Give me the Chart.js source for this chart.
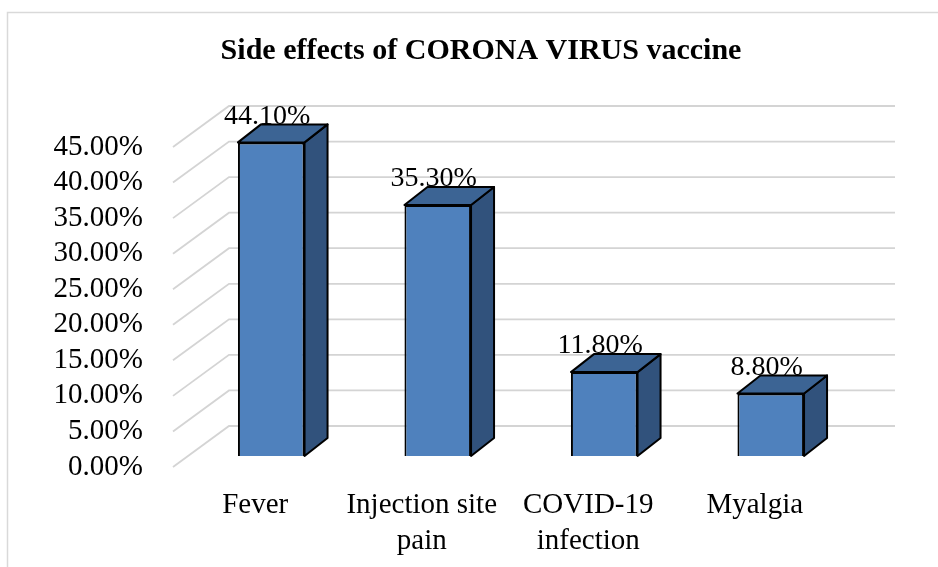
<!DOCTYPE html>
<html>
<head>
<meta charset="utf-8">
<script src="https://cdn.jsdelivr.net/npm/chart.js@4"></script>
<style>
  body { margin: 0; background: #fff; }
  canvas { display: block; }
</style>
</head>
<body>
<canvas id="chart" width="938" height="567"></canvas>
<script>
const chartTitle = "Side effects of CORONA VIRUS vaccine";
const categories = [["Fever"], ["Injection site", "pain"], ["COVID-19", "infection"], ["Myalgia"]];
const values = [44.1, 35.3, 11.8, 8.8];
const tickValues = [0, 5, 10, 15, 20, 25, 30, 35, 40, 45];

const FONT = '"Liberation Serif", "Times New Roman", serif';
// 3D offsets (px) relative to the bar plane
const FRONT = { dx: -15, dy: 11 };
const BACK = { dx: 41, dy: -30 };
const DEPTH = { dx: 23, dy: -18 };

const fake3d = {
  id: "fake3d",
  beforeDraw(chart) {
    const { ctx } = chart;
    ctx.save();
    ctx.fillStyle = "#fff";
    ctx.fillRect(0, 0, chart.width, chart.height);
    ctx.strokeStyle = "#d9d9d9";
    ctx.lineWidth = 1.5;
    ctx.strokeRect(7.5, 12.5, chart.width + 10, chart.height + 10);
    ctx.fillStyle = "#000";
    ctx.font = "bold 30px " + FONT;
    ctx.textAlign = "center";
    ctx.textBaseline = "middle";
    ctx.fillText(chartTitle, 481, 51);
    ctx.restore();
  },
  beforeDatasetsDraw(chart) {
    const { ctx, chartArea, scales } = chart;
    const y = scales.y;
    ctx.save();
    // side wall + back wall gridlines
    ctx.strokeStyle = "#d4d4d4";
    ctx.lineWidth = 1.8;
    tickValues.forEach(v => {
      const py = y.getPixelForValue(v);
      ctx.beginPath();
      ctx.moveTo(chartArea.left + FRONT.dx, py + FRONT.dy);
      ctx.lineTo(chartArea.left + BACK.dx, py + BACK.dy);
      ctx.lineTo(chartArea.right + BACK.dx, py + BACK.dy);
      ctx.stroke();
    });
    // tick labels
    ctx.fillStyle = "#000";
    ctx.font = "29px " + FONT;
    ctx.textAlign = "right";
    ctx.textBaseline = "middle";
    tickValues.forEach(v => {
      const py = y.getPixelForValue(v);
      ctx.fillText(v.toFixed(2) + "%", chartArea.left - 45, py + FRONT.dy);
    });
    // category labels
    ctx.textAlign = "center";
    const meta = chart.getDatasetMeta(0);
    meta.data.forEach((bar, i) => {
      categories[i].forEach((line, j) => {
        ctx.fillText(line, bar.x - 16, chartArea.bottom + 49 + j * 36);
      });
    });
    ctx.restore();
  },
  afterDatasetsDraw(chart) {
    const { ctx } = chart;
    const meta = chart.getDatasetMeta(0);
    ctx.save();
    ctx.strokeStyle = "#000";
    ctx.lineWidth = 2;
    ctx.lineJoin = "round";
    meta.data.forEach((bar, i) => {
      const l = bar.x - bar.width / 2;
      const r = bar.x + bar.width / 2;
      const t = bar.y;
      const b = bar.base;
      // side face
      ctx.beginPath();
      ctx.moveTo(r, t);
      ctx.lineTo(r + DEPTH.dx, t + DEPTH.dy);
      ctx.lineTo(r + DEPTH.dx, b + DEPTH.dy);
      ctx.lineTo(r, b);
      ctx.closePath();
      ctx.fillStyle = "#31527C";
      ctx.fill();
      ctx.stroke();
      // top face
      ctx.beginPath();
      ctx.moveTo(l, t);
      ctx.lineTo(l + DEPTH.dx, t + DEPTH.dy);
      ctx.lineTo(r + DEPTH.dx, t + DEPTH.dy);
      ctx.lineTo(r, t);
      ctx.closePath();
      ctx.fillStyle = "#3C6494";
      ctx.fill();
      ctx.stroke();
    });
    // data labels
    ctx.fillStyle = "#000";
    ctx.font = "28px " + FONT;
    ctx.textAlign = "center";
    ctx.textBaseline = "middle";
    meta.data.forEach((bar, i) => {
      ctx.fillText(values[i].toFixed(2) + "%", bar.x - 4, bar.y - 26);
    });
    ctx.restore();
  }
};

new Chart(document.getElementById("chart").getContext("2d"), {
  type: "bar",
  data: {
    labels: categories,
    datasets: [{
      data: values,
      backgroundColor: "#4F81BD",
      borderColor: "#000",
      borderWidth: 2,
      categoryPercentage: 1,
      barPercentage: 0.4
    }]
  },
  options: {
    responsive: false,
    animation: false,
    layout: { padding: { top: 136, bottom: 111, left: 188, right: 84 } },
    scales: {
      x: { display: false },
      y: { display: false, min: 0, max: 45 }
    },
    plugins: {
      legend: { display: false },
      title: { display: false },
      tooltip: { enabled: false }
    }
  },
  plugins: [fake3d]
});
</script>
</body>
</html>
